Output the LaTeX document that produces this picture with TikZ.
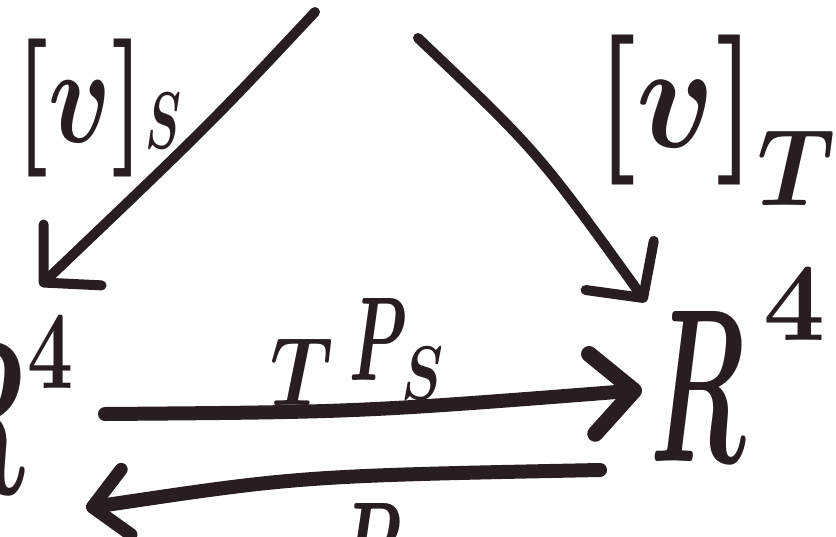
\documentclass[tikz,border=0pt]{standalone}
\usetikzlibrary{arrows.meta}
\definecolor{ink}{RGB}{40,29,31}
\begin{document}
\begin{tikzpicture}[x=1pt,y=-1pt,
  stroke/.style={draw=ink, line cap=round, line join=round},
  diag/.style={stroke, line width=10pt},
  horiz/.style={stroke, line width=14pt},
  lbl/.style={inner sep=0pt, outer sep=0pt, text=ink, anchor=base west, font=\boldmath},
  dtip/.style={-{Straight Barb[length=40pt,width=84pt,line width=10pt,round]}},
  htip/.style={-{Straight Barb[length=42pt,width=80pt,line width=16pt,round]}},
  btip/.style={-{Straight Barb[length=34pt,width=66pt,line width=13pt,round]}}
]
\useasboundingbox (0,0) rectangle (836,536);
\clip (0,0) rectangle (836,536);
\fill[white] (0,0) rectangle (836,536);

% objects
\node[lbl] (L) at (-73,492) {\resizebox{98pt}{150pt}{$R$}\hspace{2pt}\raisebox{104pt}{\resizebox{46pt}{72pt}{$4$}}};
\node[lbl] (R) at (650,461) {\resizebox{95pt}{150pt}{$R$}\hspace{18pt}\raisebox{121pt}{\resizebox{62pt}{72pt}{$4$}}};

% labels
\node[lbl] (vS) at (15,142) {\resizebox*{130pt}{138pt}{$[v]$}\raisebox{-6pt}{\resizebox{36pt}{55pt}{$S$}}};
\node[lbl] (vT) at (595,147) {\resizebox*{162pt}{150pt}{$[v]$}\raisebox{-58pt}{\resizebox{78pt}{75pt}{$T$}}};
\node[lbl] (TPS) at (270,405) {\resizebox{63pt}{67pt}{$T$}\hspace{16pt}\raisebox{25pt}{\resizebox{58pt}{82pt}{$P$}}\hspace{-6pt}\raisebox{6pt}{\resizebox{42pt}{52pt}{$S$}}};
\node[lbl] (P) at (340,585) {\resizebox{62pt}{82pt}{$P$}};

% connector end points
\coordinate (s0) at (315,12);
\coordinate (s1) at (40,286);
\coordinate (t0) at (418,38);
\coordinate (t1) at (646,302);
\coordinate (h0) at (105,414);
\coordinate (h1) at (642,390);
\coordinate (b0) at (600,470);
\coordinate (b1) at (86,508);

\draw[diag, dtip] (s0) .. controls (210,124) .. (s1);
\draw[diag, dtip] (t0) .. controls (538,152) .. (t1);
\draw[horiz, htip] (h0) .. controls (360,412) .. (h1);
\draw[horiz, btip] (b0) .. controls (300,476) .. (b1);
\end{tikzpicture}
\end{document}
